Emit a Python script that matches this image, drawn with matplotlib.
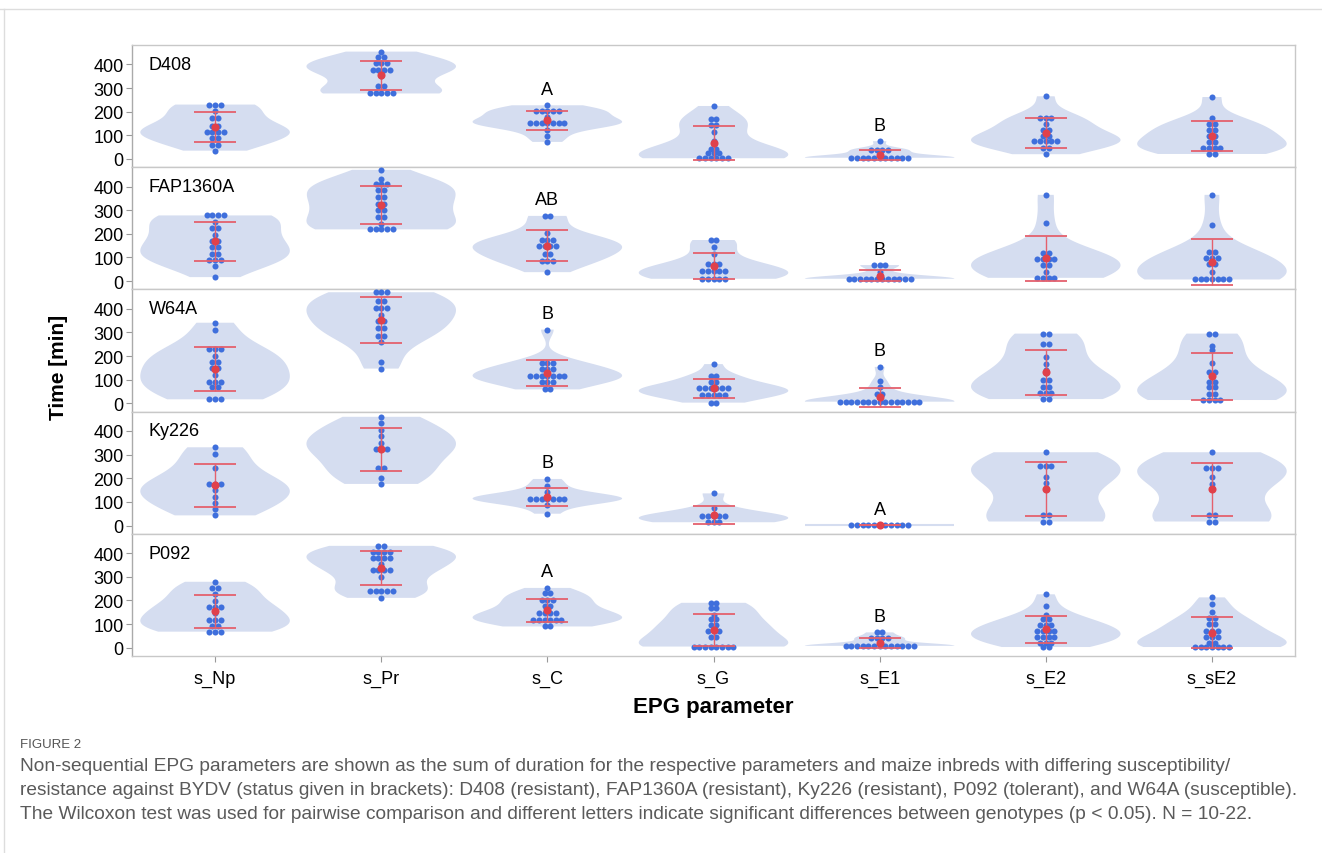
import numpy as np
import matplotlib.pyplot as plt
from matplotlib.lines import Line2D

plt.rcParams['font.family'] = ['Liberation Sans', 'DejaVu Sans']

params = ['s_Np', 's_Pr', 's_C', 's_G', 's_E1', 's_E2', 's_sE2']
genotypes = ['D408', 'FAP1360A', 'W64A', 'Ky226', 'P092']

# each cell: rows of dots as (value [min], number of dots in that row)
D408 = [
    [(230, 3), (203, 1), (174, 2), (139, 2), (115, 4), (88, 2), (60, 2), (35, 1)],
    [(454, 1), (430, 2), (404, 3), (376, 4), (352, 1), (308, 2), (277, 5)],
    [(227, 1), (203, 5), (177, 1), (152, 7), (123, 1), (96, 1), (72, 1)],
    [(224, 1), (170, 2), (145, 2), (113, 1), (74, 1), (43, 2), (24, 3), (3, 6)],
    [(75, 1), (38, 4), (20, 1), (5, 11)],
    [(265, 1), (174, 3), (149, 1), (123, 2), (96, 2), (74, 5), (47, 2), (20, 1)],
    [(262, 1), (174, 1), (149, 2), (123, 2), (99, 2), (71, 2), (47, 4), (21, 2)],
]
FAP1360A = [
    [(278, 4), (252, 1), (223, 2), (195, 1), (170, 2), (144, 2), (116, 2), (88, 3), (62, 1), (17, 1)],
    [(471, 1), (434, 1), (410, 3), (384, 2), (356, 2), (328, 2), (300, 2), (271, 2), (243, 1), (219, 5)],
    [(276, 2), (205, 1), (172, 3), (148, 4), (113, 2), (85, 3), (38, 1)],
    [(174, 2), (144, 1), (116, 1), (71, 3), (42, 5), (10, 5)],
    [(68, 3), (40, 1), (10, 12)],
    [(365, 1), (244, 1), (120, 2), (92, 4), (68, 2), (40, 1), (14, 4)],
    [(365, 1), (236, 1), (124, 2), (99, 3), (71, 2), (40, 1), (7, 7)],
]
W64A = [
    [(341, 1), (312, 1), (228, 3), (199, 1), (173, 2), (149, 2), (119, 1), (91, 3), (67, 2), (17, 3)],
    [(470, 3), (431, 2), (404, 3), (375, 1), (348, 2), (320, 2), (284, 2), (260, 1), (175, 1), (147, 1)],
    [(312, 1), (171, 3), (147, 3), (115, 7), (91, 3), (59, 2)],
    [(166, 1), (116, 2), (91, 2), (63, 6), (35, 5), (3, 2)],
    [(154, 1), (95, 1), (70, 1), (39, 2), (7, 15)],
    [(295, 2), (250, 2), (196, 1), (168, 1), (143, 1), (129, 1), (98, 2), (70, 2), (45, 3), (18, 2)],
    [(295, 2), (241, 1), (225, 1), (171, 1), (133, 2), (91, 2), (67, 2), (39, 2), (14, 4)],
]
Ky226 = [
    [(331, 1), (303, 1), (243, 1), (174, 3), (150, 1), (121, 1), (96, 1), (71, 1), (43, 1)],
    [(460, 1), (433, 1), (403, 1), (379, 1), (350, 1), (324, 3), (243, 2), (203, 1), (176, 1)],
    [(197, 1), (169, 1), (140, 1), (114, 7), (86, 1), (50, 1)],
    [(136, 1), (76, 1), (39, 5), (14, 3)],
    [(2, 11)],
    [(310, 1), (250, 3), (204, 1), (179, 1), (43, 2), (17, 2)],
    [(310, 1), (243, 3), (204, 1), (176, 1), (43, 2), (17, 2)],
]
P092 = [
    [(279, 1), (254, 2), (228, 1), (199, 1), (171, 3), (147, 1), (118, 3), (94, 2), (68, 3)],
    [(431, 2), (407, 4), (381, 4), (353, 1), (327, 4), (300, 1), (242, 5), (211, 1)],
    [(253, 1), (231, 2), (204, 3), (175, 2), (147, 4), (118, 6), (90, 2)],
    [(190, 2), (168, 2), (140, 1), (120, 2), (95, 2), (70, 3), (45, 2), (5, 8)],
    [(65, 2), (40, 4), (8, 13)],
    [(226, 1), (175, 1), (140, 1), (122, 2), (98, 3), (72, 4), (47, 4), (21, 3), (3, 2)],
    [(213, 1), (185, 1), (150, 1), (125, 2), (100, 2), (72, 3), (45, 3), (20, 2), (3, 7)],
]
data = [D408, FAP1360A, W64A, Ky226, P092]

# significance letters above s_C and s_E1
letters_C = ['A', 'AB', 'B', 'B', 'A']
letters_E1 = ['B', 'B', 'B', 'A', 'B']

caption = [
    "Non-sequential EPG parameters are shown as the sum of duration for the respective parameters and maize inbreds with differing susceptibility/",
    "resistance against BYDV (status given in brackets): D408 (resistant), FAP1360A (resistant), Ky226 (resistant), P092 (tolerant), and W64A (susceptible).",
    "The Wilcoxon test was used for pairwise comparison and different letters indicate significant differences between genotypes (p < 0.05). N = 10-22.",
]

violin_c = '#d5ddf0'
dot_c = '#3f6fdc'
mean_c = '#e0414b'
err_c = '#e4606d'
dx = 0.034


def expand(pairs):
    return np.array([v for v, n in pairs for _ in range(n)], dtype=float)


W, H = 1322, 854
fig, axes = plt.subplots(5, 1, sharex=True, figsize=(W / 100, H / 100), dpi=100,
                         gridspec_kw=dict(hspace=0))
fig.subplots_adjust(left=132 / W, right=1295 / W, top=1 - 46 / H, bottom=1 - 657 / H)

for r, (g, cells) in enumerate(zip(genotypes, data)):
    ax = axes[r]
    for i, pairs in enumerate(cells):
        vals = expand(pairs)
        if vals.std() > 0:
            vp = ax.violinplot(vals, positions=[i], widths=0.9, showextrema=False)
            for b in vp['bodies']:
                b.set_facecolor(violin_c)
                b.set_edgecolor('none')
                b.set_alpha(1)
        else:
            ax.hlines(vals[0], i - 0.45, i + 0.45, color=violin_c, lw=1.5)
        for v, n in pairs:
            xs = i + (np.arange(n) - (n - 1) / 2) * dx
            ax.scatter(xs, [v] * n, s=19, color=dot_c, lw=0, zorder=3)
        m = vals.mean()
        sd = vals.std(ddof=1) if len(vals) > 1 else 0
        ax.errorbar(i, m, yerr=sd, fmt='none', ecolor=err_c, elinewidth=1,
                    capsize=14.8, capthick=1.3, zorder=4)
        ax.scatter([i], [m], s=34, color=mean_c, lw=0, zorder=5)
        if params[i] == 's_C':
            lab = letters_C[r]
        elif params[i] == 's_E1':
            lab = letters_E1[r]
        else:
            lab = None
        if lab:
            ax.annotate(lab, (i, vals.max()), xytext=(0, 16), textcoords='offset pixels',
                        ha='center', va='center', fontsize=13)

    ax.text(-0.4, 400, g, ha='left', va='center', fontsize=13)
    ax.set_ylim(-35, 482)
    ax.set_yticks([0, 100, 200, 300, 400])
    ax.tick_params(axis='y', labelsize=13, length=4, color='#999999', pad=2)
    ax.tick_params(axis='x', length=0)
    for s in ax.spines.values():
        s.set_color('#c8c8c8')
        s.set_linewidth(1)
    ax.spines['left'].set_color('#aaaaaa')

axes[-1].set_xlim(-0.5, 6.5)
axes[-1].set_xticks(range(len(params)))
axes[-1].set_xticklabels(params, fontsize=13)
axes[-1].tick_params(axis='x', length=4, color='#999999', pad=6)

fig.text(58 / W, 1 - 367 / H, 'Time [min]', rotation=90, ha='center', va='center',
         fontsize=15, fontweight='bold')
fig.text(713 / W, 1 - 708 / H, 'EPG parameter', ha='center', va='center',
         fontsize=16, fontweight='bold')

fig.text(20 / W, 1 - 745 / H, 'FIGURE 2', ha='left', va='center', fontsize=9.5,
         color='#555555')
cap_texts = []
for k, line in enumerate(caption):
    t = fig.text(20 / W, 1 - (767 + 24 * k) / H, line, ha='left', va='center', fontsize=13,
                 color='#5a5a5a')
    cap_texts.append(t)

# shrink the caption so its longest line fits the card width
renderer = fig.canvas.get_renderer()
widest = max(t.get_window_extent(renderer).width for t in cap_texts)
for t in cap_texts:
    t.set_fontsize(13 * 1276 / widest)

fig.add_artist(Line2D([0, 1], [1 - 10 / H] * 2, color='#dddddd', lw=1, transform=fig.transFigure))
fig.add_artist(Line2D([4 / W] * 2, [0, 1 - 10 / H], color='#dddddd', lw=1, transform=fig.transFigure))

fig.savefig('out.png', dpi=100)
